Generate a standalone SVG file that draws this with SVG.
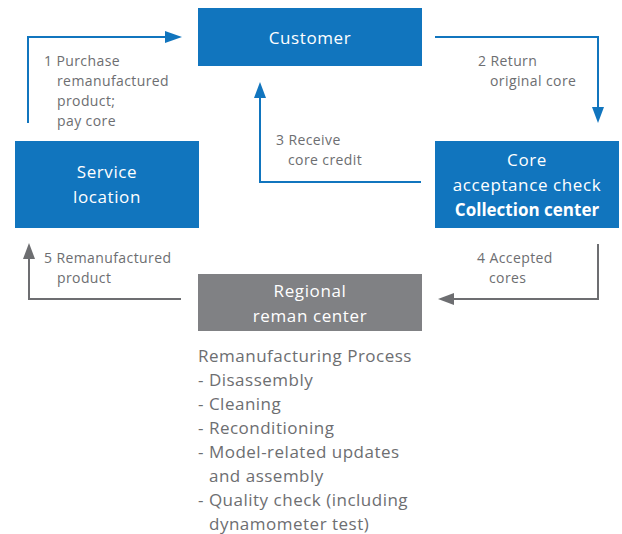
<svg xmlns="http://www.w3.org/2000/svg" width="622" height="534" viewBox="0 0 622 534">
<defs>
<style>
.box{fill:#1175be}
.gbox{fill:#808184}
.bt{font-family:"Open Sans","Liberation Sans",sans-serif;font-size:17px;letter-spacing:0.6px;fill:#ffffff;text-anchor:middle}
.bb{font-weight:bold;letter-spacing:0}
.lb{font-family:"Open Sans","Liberation Sans",sans-serif;font-size:14px;letter-spacing:0.4px;fill:#6d6e71}
.pt{font-family:"Open Sans","Liberation Sans",sans-serif;font-size:17px;letter-spacing:0.5px;fill:#6d6e71}
.bl{fill:none;stroke:#1175be;stroke-width:2}
.gl{fill:none;stroke:#6d6e71;stroke-width:2}
.ahb{fill:#1175be}
.ahg{fill:#6d6e71}
</style>
</defs>
<g id="connectors">
<path class="bl" d="M28,123 V37 H168"/>
<path class="ahb" d="M165,31 L182,37 L165,43 Z"/>
<path class="bl" d="M435,37 H598 V110"/>
<path class="ahb" d="M592,107 L598,123 L604,107 Z"/>
<path class="bl" d="M421,182 H260 V95"/>
<path class="ahb" d="M254,98 L260,82 L266,98 Z"/>
<path class="gl" d="M598,244 V299 H450"/>
<path class="ahg" d="M454,293 L438,299 L454,305 Z"/>
<path class="gl" d="M181,299 H29 V256"/>
<path class="ahg" d="M23,259 L29,243 L35,259 Z"/>
<text class="lb" x="44" y="66">1 Purchase</text>
<text class="lb" x="57" y="86">remanufactured</text>
<text class="lb" x="57" y="106">product;</text>
<text class="lb" x="57" y="126">pay core</text>
<text class="lb" x="478" y="66">2 Return</text>
<text class="lb" x="490" y="86">original core</text>
<text class="lb" x="276" y="145">3 Receive</text>
<text class="lb" x="288" y="165">core credit</text>
<text class="lb" x="477" y="263">4 Accepted</text>
<text class="lb" x="489" y="283">cores</text>
<text class="lb" x="44" y="263">5 Remanufactured</text>
<text class="lb" x="57" y="283">product</text>
</g>
<g id="customer">
<rect class="box" x="198" y="8" width="224" height="58"/>
<text class="bt" x="310" y="44">Customer</text>
</g>
<g id="service-location">
<rect class="box" x="15" y="141" width="184" height="87"/>
<text class="bt" x="107" y="178">Service</text>
<text class="bt" x="107" y="203">location</text>
</g>
<g id="collection-center">
<rect class="box" x="435" y="141" width="184" height="87"/>
<text class="bt" x="527" y="166">Core</text>
<text class="bt" x="527" y="191">acceptance check</text>
<text class="bt bb" x="527" y="216">Collection center</text>
</g>
<g id="regional-center">
<rect class="gbox" x="198" y="274" width="224" height="57"/>
<text class="bt" x="310" y="297">Regional</text>
<text class="bt" x="310" y="322">reman center</text>
</g>
<g id="process">
<text class="pt" x="198" y="362">Remanufacturing Process</text>
<text class="pt" x="198" y="386">- Disassembly</text>
<text class="pt" x="198" y="410">- Cleaning</text>
<text class="pt" x="198" y="434">- Reconditioning</text>
<text class="pt" x="198" y="458">- Model-related updates</text>
<text class="pt" x="209" y="482">and assembly</text>
<text class="pt" x="198" y="506">- Quality check (including</text>
<text class="pt" x="209" y="530">dynamometer test)</text>
</g>
</svg>
